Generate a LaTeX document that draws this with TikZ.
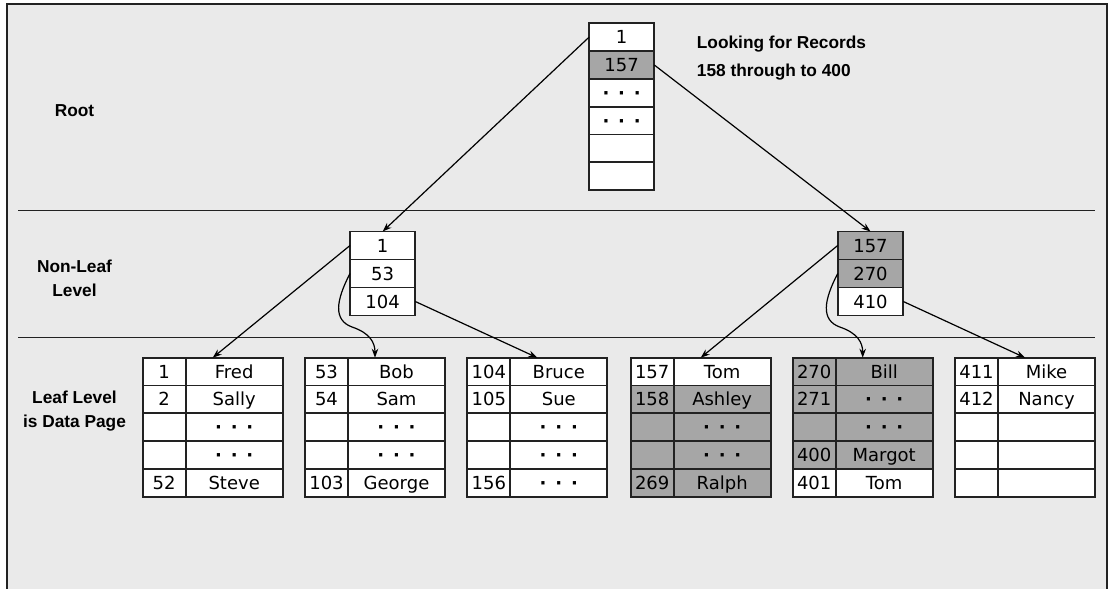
\documentclass[tikz,border=0pt]{standalone}
\usepackage{fontspec}
\setmainfont{DejaVu Sans}
\newfontfamily\labfont{Liberation Sans}
\usetikzlibrary{arrows.meta}
\definecolor{bg}{HTML}{EAEAEA}
\definecolor{hl}{HTML}{A6A6A6}
\definecolor{ln}{HTML}{222222}
\newcommand{\ddd}{{\bfseries ·\hspace{8.8pt}·\hspace{8.8pt}·}}
\newcommand{\leaftab}[3]{%
  \node[inner sep=0pt, outer sep=0pt, minimum width=140pt, minimum height=139pt] (#1) at (#2+70,427.2) {};
  \foreach \n/\t/\c [count=\i] in {#3} {
    \node[cell, minimum width=43pt, fill=\c] (#1n\i) at (#2+21.5, 357.7+27.8*\i-13.9) {\n};
    \node[cell, minimum width=97pt, fill=\c] (#1t\i) at (#2+91.5, 357.7+27.8*\i-13.9) {\t};
  }%
}
\begin{document}
\begin{tikzpicture}[x=1pt,y=-1pt,
  cell/.style={draw=ln, line width=1.7pt, rectangle, inner sep=0pt, outer sep=0pt,
    minimum height=27.8pt, font=\fontsize{18}{21}\selectfont, text height=13.1pt, text depth=0pt},
  lab/.style={font=\labfont\bfseries\fontsize{17.3}{20}\selectfont, anchor=base, inner sep=0pt},
  arr/.style={draw=black, line width=1.2pt, -{Stealth[length=9pt,width=6.5pt]}},
  sep/.style={draw=ln, line width=1.6pt},
]
\useasboundingbox (0,0) rectangle (1109,589);
\fill[white] (0,0) rectangle (1109,589);
\fill[bg] (7,3.5) rectangle (1107,589);
\draw[ln, line width=2pt] (7,589) -- (7,3.5) -- (1107,3.5) -- (1107,589);
\draw[sep] (18,210.5) -- (1095,210.5);
\draw[sep] (18,337.5) -- (1095,337.5);

% labels
\node[lab] (root) at (74.5,116) {Root};
\node[lab] (nlA) at (74.5,272) {Non-Leaf};
\node[lab] (nlB) at (74.5,296) {Level};
\node[lab] (llA) at (74.5,403) {Leaf Level};
\node[lab] (llB) at (74.5,427) {is Data Page};
\node[lab, anchor=base west] (lookA) at (696.7,48) {Looking for Records};
\node[lab, anchor=base west] (lookB) at (696.7,76) {158 through to 400};

% root page
\foreach \t/\c [count=\i] in {1/white,157/hl,\ddd/white,\ddd/white,{}/white,{}/white}
  \node[cell, minimum width=65.3pt, fill=\c] (r\i) at (621.65, 23.3+27.8*\i-13.9) {\t};

% non-leaf pages
\foreach \t/\c [count=\i] in {1/white,53/white,104/white}
  \node[cell, minimum width=65.3pt, minimum height=28pt, fill=\c] (nA\i) at (382.65, 231.5+28*\i-14) {\t};
\foreach \t/\c [count=\i] in {157/hl,270/hl,410/white}
  \node[cell, minimum width=65.6pt, minimum height=28pt, fill=\c] (nB\i) at (870.5, 231.5+28*\i-14) {\t};

% leaf pages
\leaftab{tA}{142.7}{1/Fred/white,2/Sally/white,{}/\ddd/white,{}/\ddd/white,52/Steve/white}
\leaftab{tB}{305}{53/Bob/white,54/Sam/white,{}/\ddd/white,{}/\ddd/white,103/George/white}
\leaftab{tC}{467.3}{104/Bruce/white,105/Sue/white,{}/\ddd/white,{}/\ddd/white,156/\ddd/white}
\leaftab{tD}{630.7}{157/Tom/white,158/Ashley/hl,{}/\ddd/hl,{}/\ddd/hl,269/Ralph/hl}
\leaftab{tE}{792.7}{270/Bill/hl,271/\ddd/hl,{}/\ddd/hl,400/Margot/hl,401/Tom/white}
\leaftab{tF}{955}{411/Mike/white,412/Nancy/white,{}/{}/white,{}/{}/white,{}/{}/white}

% connectors
\coordinate (cA) at (352,327);
\coordinate (cB) at (839.7,327);
\draw[arr] (r1.west) -- (nA1.north);
\draw[arr] (r2.east) -- (nB1.north);
\draw[arr] (nA1.west) -- (tA.north);
\draw[arr] (nA2.west) .. controls +(-14,27) and +(-19,-7) .. (cA) .. controls +(18,6) and +(0,-15) .. (tB.north);
\draw[arr] (nA3.east) -- (tC.north);
\draw[arr] (nB1.west) -- (tD.north);
\draw[arr] (nB2.west) .. controls +(-14,27) and +(-19,-7) .. (cB) .. controls +(18,6) and +(0,-15) .. (tE.north);
\draw[arr] (nB3.east) -- (tF.north);
\end{tikzpicture}
\end{document}
